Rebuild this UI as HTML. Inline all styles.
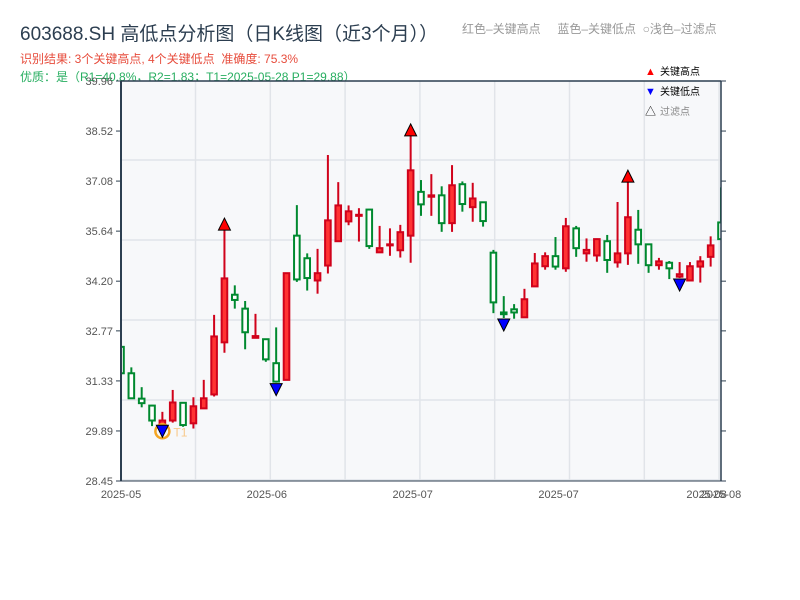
<!DOCTYPE html>
<html><head><meta charset="utf-8"><style>
body{margin:0;background:#fff;width:800px;height:600px;overflow:hidden;font-family:"Liberation Sans","Noto Sans CJK SC",sans-serif;}
svg{position:absolute;left:0;top:0}
</style></head><body>
<svg id="chart" width="800" height="600" xmlns="http://www.w3.org/2000/svg" font-family="Liberation Sans, Noto Sans CJK SC, sans-serif">
<text x="20" y="40" font-size="19" fill="#2c3e50">603688.SH 高低点分析图（日K线图（近3个月））</text>
<text x="462" y="33" font-size="12" fill="#999">红色–关键高点 &#160;&#160;&#160;&#160;蓝色–关键低点 &#160;○浅色–过滤点</text>
<text x="20" y="63" font-size="12" fill="#e74c3c">识别结果: 3个关键高点, 4个关键低点 &#160;准确度: 75.3%</text>
<text x="20" y="81" font-size="12" fill="#27ae60">优质：是（R1=40.8%，R2=1.83；T1=2025-05-28 P1=29.88）</text>
<g id="plot"></g>
</svg>
<script>
const categories=["0","1","2","3","4","5","6","7","8","9","10","11","12","13","14","15","16","17","18","19","20","21","22","23","24","25","26","27","28","29","30","31","32","33","34","35","36","37","38","39","40","41","42","43","44","45","46","47","48","49","50","51","52","53","54","55","56","57","58"];
const opens=[32.31,31.55,30.82,30.62,29.98,30.19,30.70,30.11,30.54,30.94,32.44,33.81,33.41,32.57,32.53,31.84,31.36,35.51,34.86,34.22,34.65,35.35,35.92,36.08,36.26,35.03,35.23,35.09,35.51,36.77,36.63,36.67,35.87,36.99,36.33,36.47,35.02,33.30,33.39,33.16,34.05,34.63,34.92,34.57,35.72,35.00,34.94,35.35,34.74,35.00,35.68,35.26,34.66,34.73,34.33,34.22,34.62,34.90,35.89];
const highs=[32.35,31.72,31.15,30.64,30.44,31.07,30.72,30.86,31.36,33.23,35.67,34.08,33.63,33.26,32.55,32.87,34.43,36.39,35.00,35.13,37.83,37.05,36.38,36.30,36.28,35.79,35.72,35.82,38.38,37.11,37.28,36.93,37.54,37.07,37.03,36.49,35.10,33.77,33.54,33.98,35.01,35.03,35.47,36.02,35.79,35.43,35.43,35.53,36.48,37.05,36.25,35.28,34.87,34.78,34.75,34.75,34.92,35.49,36.90];
const lows=[31.52,30.82,30.57,30.03,29.88,30.13,30.01,29.96,30.53,30.88,32.14,33.41,32.24,32.56,31.88,31.28,31.36,34.18,33.93,33.84,34.42,35.34,35.81,35.34,35.13,35.02,34.93,34.88,34.73,36.08,36.08,35.62,35.62,36.20,35.91,35.77,33.28,33.14,33.12,33.15,34.04,34.53,34.53,34.47,34.90,34.76,34.76,34.44,34.59,34.67,34.70,34.44,34.53,34.26,34.29,34.21,34.16,34.62,35.40];
const closes=[31.55,30.83,30.69,30.19,30.19,30.71,30.06,30.60,30.83,32.61,34.28,33.66,32.73,32.62,31.95,31.31,34.43,34.25,34.29,34.43,35.95,36.38,36.21,36.11,35.21,35.15,35.26,35.61,37.39,36.41,36.67,35.87,36.96,36.42,36.58,35.93,33.59,33.25,33.30,33.68,34.71,34.92,34.62,35.78,35.15,35.10,35.41,34.81,35.00,36.04,35.26,34.66,34.77,34.57,34.40,34.63,34.77,35.23,35.41];
const keyHighs=[10,28,49];
const keyLows=[4,15,37,54];
const yTicks=[28.45,29.89,31.33,32.77,34.20,35.64,37.08,38.52,39.96];
const yTickLabels=["28.45","29.89","31.33","32.77","34.20","35.64","37.08","38.52","39.96"];
const xTickIdx=[0,14.1,28.2,42.3,56.6,58];
const xTickLabels=["2025-05","2025-06","2025-07","2025-07","2025-08","2025-08"];

const L=121,R=721,T=81,B=481,yMin=28.45,yMax=39.96;
const xs=i=>L+i*(R-L)/(categories.length-1);
const ys=v=>B-(v-yMin)/(yMax-yMin)*(B-T);
const NS="http://www.w3.org/2000/svg";
const plot=document.getElementById('plot');
function mk(tag,attrs,parent){const e=document.createElementNS(NS,tag);for(const k in attrs)e.setAttribute(k,attrs[k]);(parent||plot).appendChild(e);return e;}

let e=mk('rect',{x:L,y:T,width:R-L,height:B-T,fill:'#f7f8fa'});


for(let y=T+79;y<B;y+=80){e=mk('line',{x1:L,x2:R,y1:y,y2:y,stroke:'#e1e4e9','stroke-width':1.5});

}
for(let x=L+74.5;x<R;x+=74.8){e=mk('line',{x1:x,x2:x,y1:T,y2:B,stroke:'#e1e4e9','stroke-width':1.5});

}
mk('clipPath',{id:'clip'}).appendChild(document.createElementNS(NS,'rect'));
const cr=document.querySelector('#clip rect');cr.setAttribute('x',L);cr.setAttribute('y',T);cr.setAttribute('width',R-L);cr.setAttribute('height',B-T);
const g=mk('g',{'clip-path':'url(#clip)'});


for(let i=0;i<categories.length;i++){
  const up=closes[i]>=opens[i];const col=up?'#d0021b':'#00892f';
  const x=xs(i);
  e=mk('line',{x1:x,x2:x,y1:ys(highs[i]),y2:ys(lows[i]),stroke:col,'stroke-width':2},g);
  
  
  const t=ys(Math.max(opens[i],closes[i])),b=ys(Math.min(opens[i],closes[i]));
  e=mk('rect',{x:x-2.8,y:t,width:5.6,height:Math.max(b-t,1),fill:up?'#ff3333':'#fff',stroke:col,'stroke-width':2},g);
  
  
}
keyHighs.forEach(i=>{const x=xs(i),y=ys(highs[i]);
  e=mk('path',{d:`M${x-6},${y} L${x+6},${y} L${x},${y-12} Z`,fill:'#ff0000',stroke:'#000','stroke-width':1});
  
  });
keyLows.forEach((i,k)=>{const x=xs(i),y=ys(lows[i]);
  if(k===0){e=mk('circle',{cx:x,cy:y,r:7,fill:'none',stroke:'#f5a623','stroke-width':2.5});
   
   
   e=mk('text',{x:x+11,y:y+5,'font-size':12,fill:'#f8c98a'});e.textContent='T1';
   
   
   e=mk('path',{d:`M${x-6},${y-6} L${x+6},${y-6} L${x},${y+6} Z`,fill:'#0000ff',stroke:'#000','stroke-width':1});}
  else e=mk('path',{d:`M${x-6},${y+1} L${x+6},${y+1} L${x},${y+13} Z`,fill:'#0000ff',stroke:'#000','stroke-width':1});
  
  });
// axes
e=mk('line',{x1:L,x2:R,y1:T,y2:T,stroke:'#2c3e50','stroke-width':1.5});


e=mk('line',{x1:L,x2:L,y1:T,y2:B,stroke:'#2c3e50','stroke-width':2});


e=mk('line',{x1:R,x2:R,y1:T,y2:B,stroke:'#2c3e50','stroke-width':1.5});


e=mk('line',{x1:L,x2:R,y1:B,y2:B,stroke:'#2c3e50','stroke-width':1});


yTicks.forEach((v,k)=>{const y=ys(v);
  e=mk('line',{x1:L-5,x2:L,y1:y,y2:y,stroke:'#2c3e50','stroke-width':1});
  
  
  e=mk('line',{x1:R,x2:R+5,y1:y,y2:y,stroke:'#2c3e50','stroke-width':1});
  
  
  e=mk('text',{x:L-8,y:y+4,'font-size':11,fill:'#555','text-anchor':'end'});e.textContent=yTickLabels[k];
  
  });
xTickIdx.forEach((v,k)=>{const x=xs(v);
  e=mk('text',{x:x,y:498,'font-size':11,fill:'#555','text-anchor':'middle'});e.textContent=xTickLabels[k];
  
  });
// legend
const leg=[['▲','关键高点','#ff0000','#000'],['▼','关键低点','#0000ff','#000'],['△','过滤点','#000','#888']];
leg.forEach((l,k)=>{const y=75+k*20;
  e=mk('text',{x:645,y:y,'font-size':11,fill:l[2]});e.textContent=l[0];
  
  
  e=mk('text',{x:660,y:y,'font-size':10,fill:l[3]});e.textContent=l[1];
  
  });
</script>
</body></html>
